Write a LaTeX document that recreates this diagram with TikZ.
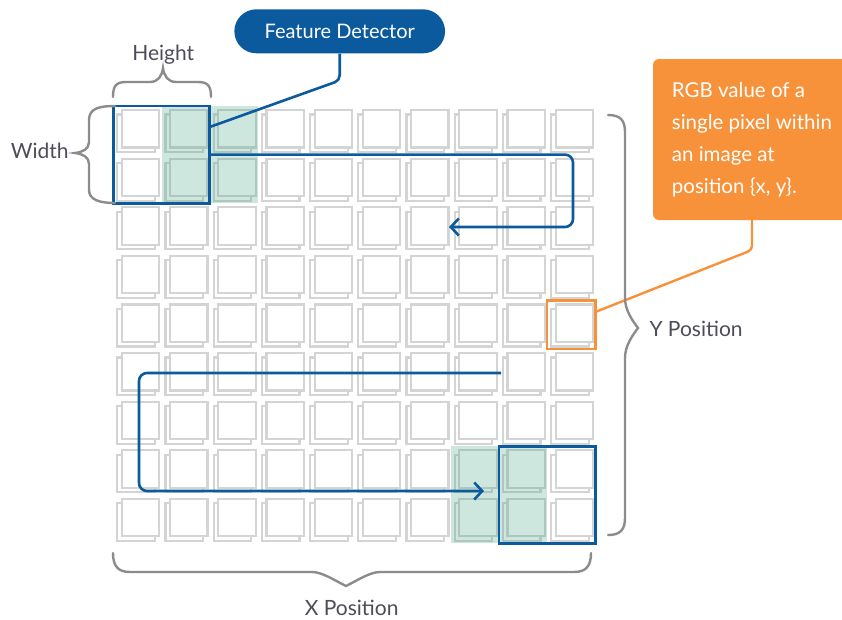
\documentclass[tikz,border=0pt]{standalone}
\usepackage{fontspec}
\setmainfont{Lato}
\usetikzlibrary{arrows.meta,calc}
\definecolor{fdblue}{RGB}{11,90,158}
\definecolor{cellgray}{RGB}{212,212,212}
\definecolor{hlgreen}{RGB}{63,163,127}
\definecolor{rgborange}{RGB}{247,146,58}
\definecolor{bracegray}{RGB}{140,140,140}
\definecolor{labelgray}{RGB}{77,77,90}
\begin{document}
\begin{tikzpicture}[x=1pt,y=-1pt,
  cellback/.style={draw=cellgray,line width=2.2pt},
  cellfront/.style={draw=cellgray,fill=white,line width=2.2pt},
  hlfill/.style={fill=hlgreen,opacity=0.25},
  fdbox/.style={draw=fdblue,line width=2.8pt,inner sep=0pt,outer sep=0pt},
  pxbox/.style={draw=rgborange,line width=2.6pt,inner sep=0pt,outer sep=0pt,minimum width=48.2pt,minimum height=48.6pt},
  fdline/.style={draw=fdblue,line width=2.6pt},
  flowarrow/.style={fdline,rounded corners=8pt,-{Straight Barb[length=8pt,width=17pt]}},
  orangeline/.style={draw=rgborange,line width=2.4pt,rounded corners=4pt},
  bracestyle/.style={draw=bracegray,line width=2.4pt,line cap=round},
  pill/.style={fill=fdblue,rounded corners=22pt,minimum width=210.7pt,minimum height=44pt,text=white,font=\fontsize{20}{24}\selectfont},
  callout/.style={fill=rgborange,rounded corners=6pt,inner sep=0pt,outer sep=0pt},
  callouttext/.style={text=white,align=left,inner sep=0pt,font=\fontsize{20.5}{32}\selectfont},
  lbl/.style={text=labelgray,inner sep=0pt,font=\fontsize{21}{25}\selectfont}
]
\useasboundingbox (0,0) rectangle (842,619);
\fill[white] (0,0) rectangle (842,619);

% grid of pixels
\foreach \c in {0,...,9}{
  \foreach \r in {0,...,8}{
    \pgfmathsetmacro{\X}{113.3+48.2*\c}
    \pgfmathsetmacro{\Y}{106+48.6*\r}
    \draw[cellback] (\X+4,\Y+8.5) rectangle ++(37.5,37.5);
    \draw[cellfront] (\X+8.5,\Y+4) rectangle ++(37.5,37.5);
  }
}

% green highlights
\fill[hlfill] (161.5,106) rectangle (257.9,203.2);
\fill[hlfill] (450.7,446.2) rectangle (547.1,543.4);

% feature detector boxes
\node[fdbox,minimum width=96.4pt,minimum height=97.2pt] (fd1) at (161.5,154.6) {};
\node[fdbox,minimum width=96.4pt,minimum height=97.2pt] (fd2) at (547.1,494.8) {};

% single pixel
\node[pxbox] (px) at (571.2,324.7) {};

% feature detector label
\node[pill] (fdlabel) at (339.7,31.3) {Feature Detector};
\draw[fdline,rounded corners=5pt] (fdlabel.south) -- ++(0,27) -- ($(fd1.east)+(0,-27.6)$);

% flow arrows
\coordinate (ta) at (573,227);
\coordinate (tend) at (449,227);
\draw[flowarrow] (fd1.east) -| (ta) -- (tend);
\coordinate (bs) at (501,373);
\coordinate (bc) at (139,491);
\coordinate (bend) at (484,491);
\draw[flowarrow] (bs) -| (bc) -- (bend);

% callout
\node[callout,anchor=north west,minimum width=220pt,minimum height=161pt] (rgb) at (653,59) {};
\node[callouttext,anchor=north west] (rgbtext) at (671.7,82) {RGB value of a\\single pixel within\\an image at\\position \{x, y\}.};
\coordinate (oc) at (752,250);
\draw[orangeline] ($(px.east)+(0,-12.7)$) -- (oc) -- (oc |- rgb.south);

% braces
\draw[bracestyle] (113,97) .. controls (113,86) and (116,82) .. (126,82) -- (150,82)
  .. controls (158,82) and (162,76) .. (163,68) .. controls (164,76) and (168,82) .. (176,82)
  -- (198,82) .. controls (208,82) and (211,86) .. (211,97);
\draw[bracestyle] (115,106) .. controls (100,106) and (89,108) .. (89,120) -- (89,142)
  .. controls (89,149) and (83,152) .. (75,153) .. controls (83,154) and (89,157) .. (89,164)
  -- (89,190) .. controls (89,200) and (100,203) .. (115,203);
\draw[bracestyle] (113,553) .. controls (113,566) and (118,572) .. (130,572) -- (312,572)
  .. controls (322,572) and (334,580) .. (346,586) .. controls (358,580) and (370,572) .. (380,572)
  -- (574,572) .. controls (586,572) and (591,566) .. (591,553);
\draw[bracestyle] (608,115) .. controls (620,115) and (625,120) .. (625,132) -- (625,298)
  .. controls (625,310) and (632,320) .. (638,328) .. controls (632,336) and (625,346) .. (625,358)
  -- (625,518) .. controls (625,530) and (620,535) .. (608,535);

% labels
\node[lbl,anchor=base] (hlbl) at (163.3,60) {Height};
\node[lbl,anchor=base] (wlbl) at (39.7,158.3) {Width};
\node[lbl,anchor=base west] (ylbl) at (649.3,336.7) {Y Position};
\node[lbl,anchor=base] (xlbl) at (351.7,615) {X Position};
\end{tikzpicture}
\end{document}
